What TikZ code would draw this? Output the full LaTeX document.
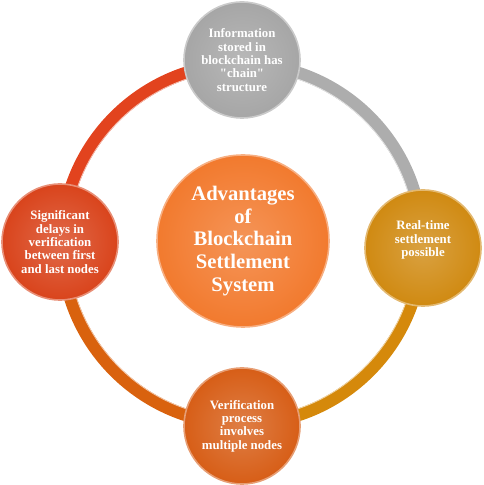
\documentclass[tikz,border=0pt]{standalone}
\usepackage{fontspec}
\setmainfont{Liberation Serif}
\definecolor{ringgray}{HTML}{ADADAD}
\definecolor{ringgold}{HTML}{D5890B}
\definecolor{ringorange}{HTML}{D9620E}
\definecolor{ringred}{HTML}{E2431E}
\definecolor{topgray}{HTML}{A6A6A6}
\definecolor{rightgold}{HTML}{D08A12}
\definecolor{botorange}{HTML}{D75E17}
\definecolor{leftred}{HTML}{D9441C}
\definecolor{midorange}{HTML}{F27A2E}
\begin{document}
\begin{tikzpicture}[x=0.75pt,y=0.75pt,
	ring/.style={line width=9.4pt},
	ball/.style={circle,minimum size=87pt,inner sep=0pt,align=center,text=white,
		font=\fontsize{9.6}{10}\selectfont\bfseries,
		draw=#1!60!white,line width=1.2pt,inner color=#1!80!white,outer color=#1}]
		\useasboundingbox (0,0) rectangle (484,485);
		\coordinate (o) at (242,241);
		
		\foreach \a/\c in {90/ringgray,0/ringgold,-90/ringorange,180/ringred}{
			\draw[ring,\c] ([shift={(o)}]\a:180) arc[start angle=\a,delta angle=-90,radius=180];
			\draw[\c!35!white,line width=0.6pt] ([shift={(o)}]\a:174) arc[start angle=\a,delta angle=-90,radius=174];
		}
		
		\node[ball=topgray] (info) at (242,425) {Information\\stored in\\blockchain has\\\textquotedbl chain\textquotedbl\\structure};
		\node[ball=rightgold] (realtime) at (423,237) {Real-time\\settlement\\possible\\[4pt]};
		\node[ball=botorange] (verify) at (242,59) {Verification\\process\\involves\\multiple nodes};
		\node[ball=leftred] (delays) at (60,243) {Significant\\delays in\\verification\\between first\\and last nodes};
		\node[ball=midorange,minimum size=129pt,font=\fontsize{15.5}{16.9}\selectfont\bfseries] (adv) at (243,244) {Advantages\\of\\Blockchain\\Settlement\\System};
\end{tikzpicture}
\end{document}
